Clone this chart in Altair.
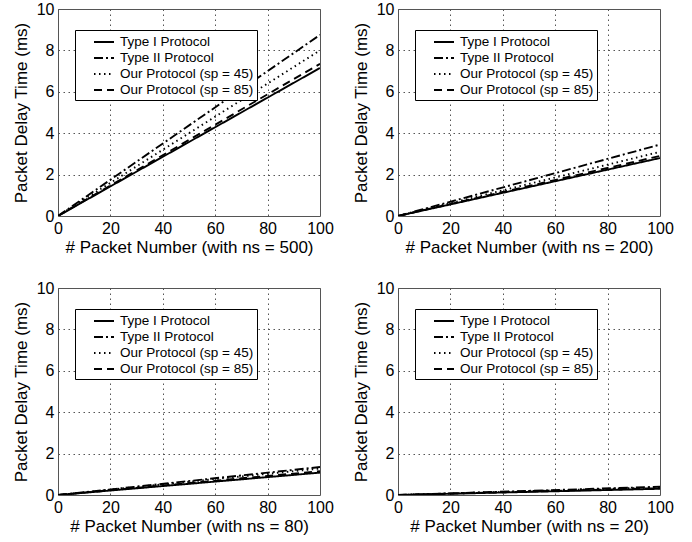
import altair as alt
import pandas as pd

# ---- data ----
packets = [0, 100]
series = ["Type I Protocol", "Type II Protocol",
          "Our Protocol (sp = 45)", "Our Protocol (sp = 85)"]
ns_values = [500, 200, 80, 20]
type1_delay = [[0, 7.15], [0, 2.80], [0, 1.08], [0, 0.30]]
type2_delay = [[0, 8.75], [0, 3.45], [0, 1.35], [0, 0.40]]
sp45_delay = [[0, 8.00], [0, 3.10], [0, 1.28], [0, 0.37]]
sp85_delay = [[0, 7.35], [0, 2.90], [0, 1.15], [0, 0.33]]
x_ticks = [0, 20, 40, 60, 80, 100]
y_ticks = [0, 2, 4, 6, 8, 10]

rows = []
for i, ns in enumerate(ns_values):
    for name, vals in zip(series, [type1_delay[i], type2_delay[i], sp45_delay[i], sp85_delay[i]]):
        for p, d in zip(packets, vals):
            rows.append({"ns": ns, "series": name, "packet": p, "delay": d})
df = pd.DataFrame(rows)

FONT = "Liberation Sans"


def panel(ns):
    data = df[df["ns"] == ns]
    return alt.Chart(data).mark_line(color="black", strokeWidth=1.9, clip=True).encode(
        x=alt.X("packet:Q",
                scale=alt.Scale(domain=[0, 100], nice=False),
                axis=alt.Axis(values=x_ticks, title=f"# Packet Number (with ns = {ns})")),
        y=alt.Y("delay:Q",
                scale=alt.Scale(domain=[0, 10], nice=False),
                axis=alt.Axis(values=y_ticks, title="Packet Delay Time (ms)")),
        strokeDash=alt.StrokeDash(
            "series:N",
            scale=alt.Scale(domain=series,
                            range=[[1, 0], [9, 3, 2, 3], [1.5, 3.5], [8, 5]]),
            legend=alt.Legend(title=None, orient="none", legendX=17, legendY=21),
        ),
        order=alt.Order("packet:Q"),
    ).properties(width=262, height=207)


top = alt.hconcat(panel(500), panel(200), spacing=17).resolve_scale(
    strokeDash="independent").resolve_legend(strokeDash="independent")
bottom = alt.hconcat(panel(80), panel(20), spacing=17).resolve_scale(
    strokeDash="independent").resolve_legend(strokeDash="independent")

chart = alt.vconcat(top, bottom, spacing=23).resolve_scale(
    strokeDash="independent").resolve_legend(strokeDash="independent").properties(
    padding={"left": 11, "top": 0, "right": 5, "bottom": 2},
    background="white",
).configure_view(
    stroke="#555555", strokeWidth=1
).configure_axis(
    grid=True, gridColor="#555555", gridDash=[1.5, 3.5], gridWidth=1,
    domain=False, ticks=False, tickSize=0,
    labelFont=FONT, labelFontSize=16, labelColor="black", labelPadding=4,
    titleFont=FONT, titleFontSize=17, titleColor="black", titleFontWeight="normal",
    labelFlush=False,
).configure_axisY(
    labelPadding=4, titlePadding=6,
).configure_axisX(
    titlePadding=3,
).configure_legend(
    strokeColor="black", fillColor="white", padding=3,
    labelFont=FONT, labelFontSize=13.5, labelColor="black", labelOffset=7,
    symbolType="M-1.25,0H1.25", symbolStrokeWidth=1.9, symbolStrokeColor="black",
    symbolFillColor="transparent", symbolOffset=17,
    symbolSize=256, rowPadding=0, cornerRadius=0,
)

chart.save("out.html", embed_options={"renderer": "svg", "actions": False})
